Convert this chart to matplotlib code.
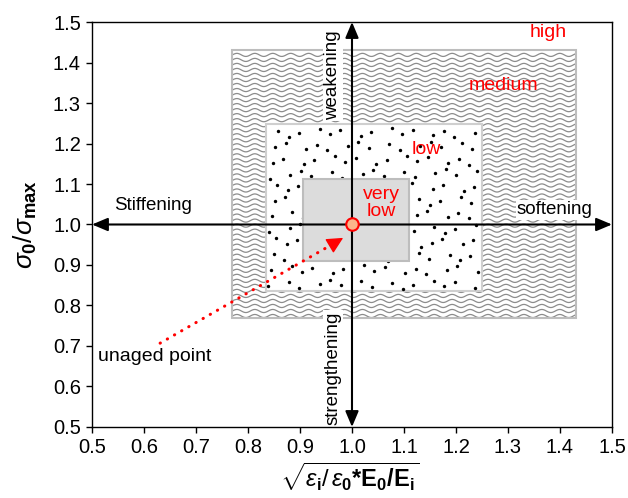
import numpy as np
import matplotlib
matplotlib.use("Agg")
import matplotlib.pyplot as plt
from matplotlib.patches import Rectangle, PathPatch
from matplotlib.path import Path
from matplotlib.collections import LineCollection

plt.rcParams["font.family"] = ["Liberation Sans", "DejaVu Sans"]
plt.rcParams["mathtext.fontset"] = "custom"
plt.rcParams["mathtext.rm"] = "Liberation Sans"
plt.rcParams["mathtext.it"] = "Liberation Sans:italic"
plt.rcParams["mathtext.bf"] = "Liberation Sans:bold"

# ageing zones as (x0, x1, y0, y1)
zone_medium = (0.77, 1.43, 0.77, 1.43)
zone_low = (0.835, 1.25, 0.836, 1.248)
zone_vlow = (0.905, 1.11, 0.91, 1.112)

zone_names = ["high", "medium", "low", "very\nlow"]
zone_label_x = [1.377, 1.292, 1.142, 1.056]
zone_label_y = [1.473, 1.342, 1.184, 1.053]

unaged_x, unaged_y = 1.0, 1.0
drift_start = (0.631, 0.707)
drift_end = (0.958, 0.948)
drift_tip = (0.983, 0.967)

dir_names = ["Stiffening", "softening", "weakening", "strengthening"]
dir_x = [0.617, 1.390, 0.963, 0.963]
dir_y = [1.048, 1.036, 1.369, 0.646]
dir_rot = [0, 0, 90, 90]

ticks = [0.5, 0.6, 0.7, 0.8, 0.9, 1.0, 1.1, 1.2, 1.3, 1.4, 1.5]
tick_labels = ["0.5", "0.6", "0.7", "0.8", "0.9", "1.0", "1.1", "1.2", "1.3", "1.4", "1.5"]

fig = plt.figure(figsize=(6.28, 4.98), dpi=100)
ax = fig.add_axes([0.1465, 0.1426, 0.828, 0.8132])
ax.set_xlim(0.5, 1.5)
ax.set_ylim(0.5, 1.5)

# medium zone: wavy texture in the frame between outer and dotted boxes
mx0, mx1, my0, my1 = zone_medium
lx0, lx1, ly0, ly1 = zone_low
frame = Path(
    [(mx0, my0), (mx1, my0), (mx1, my1), (mx0, my1), (mx0, my0),
     (lx0, ly0), (lx0, ly1), (lx1, ly1), (lx1, ly0), (lx0, ly0)],
    [Path.MOVETO, Path.LINETO, Path.LINETO, Path.LINETO, Path.CLOSEPOLY,
     Path.MOVETO, Path.LINETO, Path.LINETO, Path.LINETO, Path.CLOSEPOLY])
clip = PathPatch(frame, facecolor="white", edgecolor="none", transform=ax.transData)
ax.add_patch(clip)
wx = np.linspace(mx0, mx1, 600)
waves = []
for lvl in np.arange(my0 + 0.004, my1, 0.0124):
    waves.append(np.column_stack([wx, lvl + 0.0038 * np.sin(2 * np.pi * (wx - mx0) / 0.0345)]))
lc = LineCollection(waves, colors="#8c8c8c", linewidths=0.9, zorder=1)
ax.add_collection(lc)
lc.set_clip_path(clip)
ax.add_patch(Rectangle((mx0, my0), mx1 - mx0, my1 - my0, fill=False,
                       edgecolor="#bdbdbd", lw=1.5, zorder=2))

# low zone: stipple on a jittered grid
cw, chh = 0.0275, 0.034
gx, gy = np.meshgrid(np.arange(lx0 + cw / 2, lx1, cw), np.arange(ly0 + chh / 2, ly1, chh))
k = np.arange(gx.size).reshape(gx.shape)
sx = gx + cw * 0.7 * (((k * 0.6180339887) % 1) - 0.5)
sy = gy + chh * 0.7 * (((k * 0.4142135624 + 0.3) % 1) - 0.5)
ax.add_patch(Rectangle((lx0, ly0), lx1 - lx0, ly1 - ly0, facecolor="white",
                       edgecolor="#cfcfcf", lw=1.5, zorder=2))
ax.scatter(sx.ravel(), sy.ravel(), s=6, color="black", linewidths=0, zorder=2.5)

# very low zone: plain grey box
vx0, vx1, vy0, vy1 = zone_vlow
ax.add_patch(Rectangle((vx0, vy0), vx1 - vx0, vy1 - vy0, facecolor="#dcdcdc",
                       edgecolor="#bdbdbd", lw=1.5, zorder=3))

for name, x, y in zip(zone_names, zone_label_x, zone_label_y):
    ax.text(x, y, name, color="red", fontsize=14, ha="center", va="center",
            linespacing=1.0, zorder=6)

# direction axes
arrow_kw = dict(arrowstyle="<|-|>,head_length=0.95,head_width=0.4", color="black",
                lw=1.5, shrinkA=0, shrinkB=0)
ax.annotate("", xy=(1.5, unaged_y), xytext=(0.5, unaged_y), arrowprops=arrow_kw, zorder=5)
ax.annotate("", xy=(unaged_x, 1.5), xytext=(unaged_x, 0.5), arrowprops=arrow_kw, zorder=5)

for name, x, y, rot in zip(dir_names, dir_x, dir_y, dir_rot):
    ax.text(x, y, name, fontsize=13.5, ha="center", va="center", rotation=rot, zorder=4,
            bbox=dict(facecolor="white", edgecolor="none", pad=1.0))

# drift from the unaged point
ax.plot([drift_start[0], drift_end[0]], [drift_start[1], drift_end[1]], color="red",
        lw=2.2, linestyle=(0, (0.1, 2.6)), dash_capstyle="round", zorder=6)
ax.annotate("", xy=drift_tip, xytext=drift_end,
            arrowprops=dict(arrowstyle="-|>,head_length=1.0,head_width=0.5", color="red",
                            lw=1.0, shrinkA=0, shrinkB=0), zorder=6)
ax.text(0.621, 0.673, "unaged point", fontsize=14, ha="center", va="center")

ax.plot([unaged_x], [unaged_y], "o", ms=9, mfc="#fbb48a", mec="red", mew=1.5, zorder=7)

ax.set_xticks(ticks)
ax.set_xticklabels(tick_labels)
ax.set_yticks(ticks)
ax.set_yticklabels(tick_labels)
ax.tick_params(direction="out", length=4, width=1, labelsize=14.5, pad=4)
for s in ax.spines.values():
    s.set_linewidth(1.0)

ax.text(0.496, -0.124,
        r"$\sqrt{\varepsilon_\mathbf{i}/\,\varepsilon_\mathbf{0}\mathbf{*E_0/E_i}}$",
        transform=ax.transAxes, fontsize=17, ha="center", va="center")
ax.text(-0.128, 0.5, r"$\sigma_\mathbf{0}/\sigma_\mathbf{max}$",
        transform=ax.transAxes, fontsize=19, ha="center", va="center", rotation=90)

fig.savefig("out.png", dpi=100)
